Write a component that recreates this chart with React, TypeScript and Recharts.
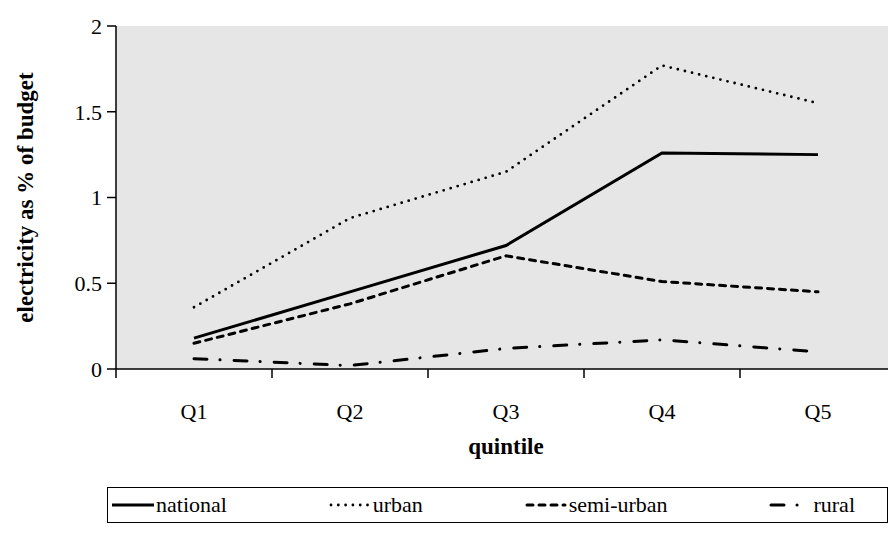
import React from 'react'
import { LineChart, Line, XAxis, YAxis, CartesianGrid, Legend } from 'recharts'

// quintiles
const categories = ['Q1', 'Q2', 'Q3', 'Q4', 'Q5']

// electricity as % of budget
const national = [0.18, 0.45, 0.72, 1.26, 1.25]
const urban = [0.36, 0.88, 1.15, 1.77, 1.55]
const semiUrban = [0.15, 0.38, 0.66, 0.51, 0.45]
const rural = [0.06, 0.02, 0.12, 0.17, 0.1]

const yTicks = [0, 0.5, 1, 1.5, 2]

const FONT = '"Liberation Serif", "DejaVu Serif", serif'
const HALF_BAND = 78

const series = [
  { key: 'national', label: 'national', dash: undefined, cap: 'butt', width: 3 },
  { key: 'urban', label: 'urban', dash: '0 7.3', cap: 'round', width: 2.8 },
  { key: 'semiUrban', label: 'semi-urban', dash: '6 6', cap: 'round', width: 3 },
  { key: 'rural', label: 'rural', dash: '13 13 0.1 14', cap: 'round', width: 3 },
]

const data = categories.map((q, i) => ({
  pos: i + 1,
  q,
  national: national[i],
  urban: urban[i],
  semiUrban: semiUrban[i],
  rural: rural[i],
}))

const XTick = (props: any) => {
  const { x, y, payload } = props
  return (
    <g>
      <line x1={x - HALF_BAND} y1={y} x2={x - HALF_BAND} y2={y + 9} stroke="#000" strokeWidth={1.5} />
      <text x={x} y={y + 50} textAnchor="middle" fontFamily={FONT} fontSize={22} fill="#000">
        {categories[payload.value - 1]}
      </text>
    </g>
  )
}

const YTitle = (props: any) => {
  const vb = props.viewBox || {}
  const cy = vb.y + vb.height / 2
  return (
    <text
      x={17}
      y={cy}
      transform={`rotate(-90, 17, ${cy})`}
      textAnchor="middle"
      dominantBaseline="central"
      fontFamily={FONT}
      fontWeight="bold"
      fontSize={23}
      fill="#000"
    >
      electricity as % of budget
    </text>
  )
}

const XTitle = (props: any) => {
  const vb = props.viewBox || {}
  return (
    <text
      x={vb.x + vb.width / 2}
      y={vb.y + 85}
      textAnchor="middle"
      fontFamily={FONT}
      fontWeight="bold"
      fontSize={23}
      fill="#000"
    >
      quintile
    </text>
  )
}

const Sample = ({ s }: { s: (typeof series)[number] }) => (
  <svg width={42} height={10} style={{ display: 'block' }}>
    <line
      x1={s.cap === 'round' ? 2 : 0}
      y1={5}
      x2={s.cap === 'round' ? 40 : 42}
      y2={5}
      stroke="#000"
      strokeWidth={s.width}
      strokeDasharray={s.dash}
      strokeLinecap={s.cap as any}
    />
  </svg>
)

const LegendBox = () => (
  <div
    style={{
      boxSizing: 'border-box',
      height: 36,
      border: '1.5px solid #000',
      display: 'flex',
      alignItems: 'center',
      justifyContent: 'space-between',
      padding: '0 32px 0 4px',
      fontFamily: FONT,
      fontSize: 22,
      color: '#000',
      background: '#fff',
    }}
  >
    {series.map((s) => (
      <div key={s.key} style={{ display: 'flex', alignItems: 'center', gap: 2 }}>
        <Sample s={s} />
        <span>{s.label}</span>
      </div>
    ))}
  </div>
)

export default function App() {
  return (
    <LineChart width={888} height={544} data={data} margin={{ top: 18, right: 0, left: 0, bottom: 57 }}>
      <CartesianGrid fill="#e6e6e6" horizontal={false} vertical={false} />
      <XAxis
        type="number"
        dataKey="pos"
        domain={[0.5, 5.5]}
        ticks={[1, 2, 3, 4, 5]}
        tick={<XTick />}
        tickLine={false}
        tickSize={0}
        tickMargin={0}
        height={90}
        axisLine={{ stroke: '#000', strokeWidth: 1.5 }}
        label={<XTitle />}
      />
      <YAxis
        domain={[0, 2]}
        ticks={yTicks}
        width={108}
        tickSize={9}
        tickMargin={5}
        tick={{ fontFamily: FONT, fontSize: 22, fill: '#000' }}
        tickLine={{ stroke: '#000', strokeWidth: 1.5 }}
        axisLine={{ stroke: '#000', strokeWidth: 1.5 }}
        label={<YTitle />}
      />
      <Legend
        verticalAlign="bottom"
        content={<LegendBox />}
        wrapperStyle={{ left: 99, bottom: 29, width: 781 }}
      />
      {series.map((s) => (
        <Line
          key={s.key}
          dataKey={s.key}
          type="linear"
          stroke="#000"
          strokeWidth={s.width}
          strokeDasharray={s.dash}
          strokeLinecap={s.cap as any}
          dot={false}
          activeDot={false}
          isAnimationActive={false}
        />
      ))}
    </LineChart>
  )
}
